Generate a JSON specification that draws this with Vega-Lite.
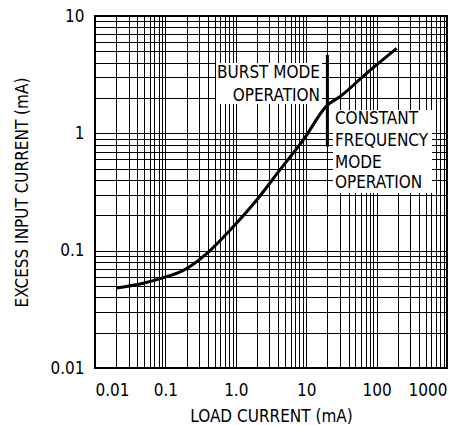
{
  "$schema": "https://vega.github.io/schema/vega-lite/v6.json",
  "width": 352,
  "height": 352,
  "autosize": "none",
  "padding": {"left": 95, "top": 16, "right": 18, "bottom": 57},
  "background": "white",
  "config": {
    "view": {"stroke": "black", "strokeWidth": 2},
    "font": "'DejaVu Sans Condensed', sans-serif",
    "axis": {
      "domain": false,
      "ticks": false,
      "grid": true,
      "gridColor": "black",
      "gridOpacity": 1,
      "gridWidth": 1,
      "labelFont": "'DejaVu Sans Condensed', sans-serif",
      "labelFontSize": 17,
      "labelColor": "black",
      "titleFont": "'DejaVu Sans Condensed', sans-serif",
      "titleFontSize": 17,
      "titleFontWeight": "normal",
      "titleColor": "black",
      "labelOverlap": false,
      "labelBound": false
    }
  },
  "datasets": {
    "curve": [
      {"x": 0.02, "y": 0.048},
      {"x": 0.05, "y": 0.053},
      {"x": 0.104, "y": 0.06},
      {"x": 0.18, "y": 0.068},
      {"x": 0.39, "y": 0.095},
      {"x": 0.92, "y": 0.16},
      {"x": 1.98, "y": 0.27},
      {"x": 4.25, "y": 0.49},
      {"x": 9.1, "y": 0.88},
      {"x": 20, "y": 1.74},
      {"x": 30, "y": 2.05},
      {"x": 72, "y": 3.25},
      {"x": 193, "y": 5.3}
    ],
    "boxes": [
      {"x": 0.524, "x2": 16.8, "y": 3.97, "y2": 1.78},
      {"x": 24, "x2": 612, "y": 1.58, "y2": 0.31}
    ],
    "labelsRight": [
      {"x": 15.7, "y": 3.25, "text": "BURST MODE"},
      {"x": 15.7, "y": 2.1, "text": "OPERATION"}
    ],
    "labelsLeft": [
      {"x": 25.6, "y": 1.325, "text": "CONSTANT"},
      {"x": 25.6, "y": 0.855, "text": "FREQUENCY"},
      {"x": 25.6, "y": 0.561, "text": "MODE"},
      {"x": 25.6, "y": 0.375, "text": "OPERATION"}
    ],
    "divider": [
      {"x": 20, "y": 0.77, "y2": 4.65}
    ]
  },
  "layer": [
    {
      "data": {"name": "boxes"},
      "mark": {"type": "rect", "fill": "white", "stroke": null},
      "encoding": {
        "x": {
          "field": "x", "type": "quantitative",
          "scale": {"type": "log", "domain": [0.01, 1000], "nice": false},
          "title": "LOAD CURRENT (mA)",
          "axis": {
            "values": [0.01,0.02,0.03,0.04,0.05,0.06,0.07,0.08,0.09,0.1,0.2,0.3,0.4,0.5,0.6,0.7,0.8,0.9,1,2,3,4,5,6,7,8,9,10,20,30,40,50,60,70,80,90,100,200,300,400,500,600,700,800,900,1000],
            "labelExpr": "datum.value==0.01?'0.01':datum.value==0.1?'0.1':datum.value==1?'1.0':datum.value==10?'10':datum.value==100?'100':datum.value==1000?'1000':''",
            "labelPadding": 14,
            "titlePadding": 10
          }
        },
        "x2": {"field": "x2"},
        "y": {
          "field": "y", "type": "quantitative",
          "scale": {"type": "log", "domain": [0.01, 10], "nice": false},
          "title": "EXCESS INPUT CURRENT (mA)",
          "axis": {
            "values": [0.01,0.02,0.03,0.04,0.05,0.06,0.07,0.08,0.09,0.1,0.2,0.3,0.4,0.5,0.6,0.7,0.8,0.9,1,2,3,4,5,6,7,8,9,10],
            "labelExpr": "datum.value==0.01?'0.01':datum.value==0.1?'0.1':datum.value==1?'1':datum.value==10?'10':''",
            "labelPadding": 11,
            "titlePadding": 18
          }
        },
        "y2": {"field": "y2"}
      }
    },
    {
      "data": {"name": "curve"},
      "mark": {"type": "line", "color": "black", "strokeWidth": 3, "interpolate": "monotone"},
      "encoding": {
        "x": {"field": "x", "type": "quantitative", "title": "LOAD CURRENT (mA)"},
        "y": {"field": "y", "type": "quantitative", "title": "EXCESS INPUT CURRENT (mA)"}
      }
    },
    {
      "data": {"name": "divider"},
      "mark": {"type": "rule", "color": "black", "strokeWidth": 3},
      "encoding": {
        "x": {"field": "x", "type": "quantitative", "title": "LOAD CURRENT (mA)"},
        "y": {"field": "y", "type": "quantitative", "title": "EXCESS INPUT CURRENT (mA)"},
        "y2": {"field": "y2"}
      }
    },
    {
      "data": {"name": "labelsRight"},
      "mark": {"type": "text", "align": "right", "baseline": "middle", "fontSize": 17, "color": "black"},
      "encoding": {
        "x": {"field": "x", "type": "quantitative", "title": "LOAD CURRENT (mA)"},
        "y": {"field": "y", "type": "quantitative", "title": "EXCESS INPUT CURRENT (mA)"},
        "text": {"field": "text"}
      }
    },
    {
      "data": {"name": "labelsLeft"},
      "mark": {"type": "text", "align": "left", "baseline": "middle", "fontSize": 17, "color": "black"},
      "encoding": {
        "x": {"field": "x", "type": "quantitative", "title": "LOAD CURRENT (mA)"},
        "y": {"field": "y", "type": "quantitative", "title": "EXCESS INPUT CURRENT (mA)"},
        "text": {"field": "text"}
      }
    }
  ]
}
